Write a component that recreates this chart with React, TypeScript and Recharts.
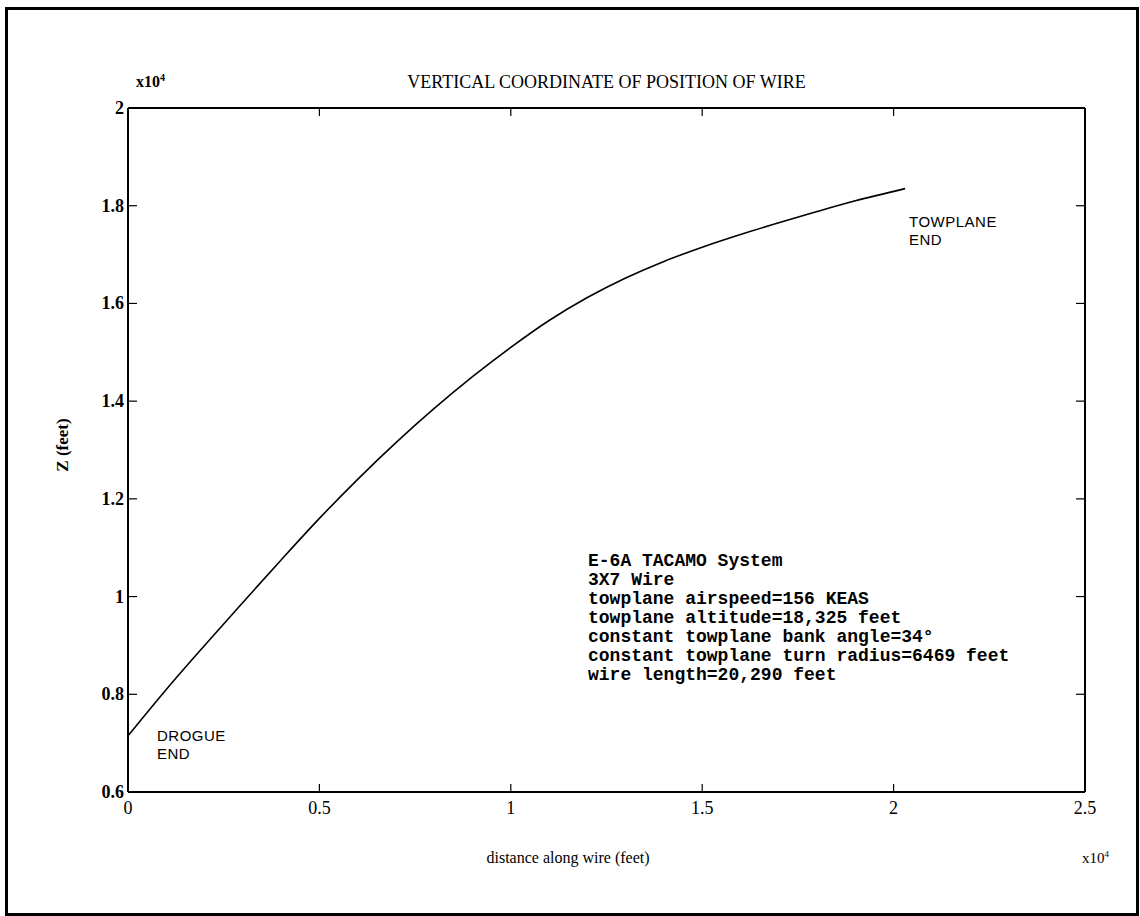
import { LineChart, Line, XAxis, YAxis } from "recharts";

// distance along wire (x10^4 feet) and vertical coordinate Z (x10^4 feet)
const distance = [0, 0.1, 0.2, 0.3, 0.4, 0.5, 0.6, 0.7, 0.8, 0.9, 1.0, 1.1, 1.2, 1.3, 1.4, 1.5, 1.6, 1.7, 1.8, 1.9, 2.03];
const zHeight = [0.715, 0.81, 0.9, 0.988, 1.075, 1.16, 1.24, 1.315, 1.385, 1.45, 1.51, 1.565, 1.612, 1.652, 1.686, 1.715, 1.741, 1.765, 1.788, 1.81, 1.835];

const xTicks = [0, 0.5, 1, 1.5, 2, 2.5];
const yTicks = [0.6, 0.8, 1, 1.2, 1.4, 1.6, 1.8, 2];

const notes = [
  "E-6A TACAMO System",
  "3X7 Wire",
  "towplane airspeed=156 KEAS",
  "towplane altitude=18,325 feet",
  "constant towplane bank angle=34°",
  "constant towplane turn radius=6469 feet",
  "wire length=20,290 feet",
];

const data = distance.map((d, i) => ({ distance: d, z: zHeight[i] }));

const serif = "'Liberation Serif', 'Times New Roman', serif";

const BottomTick = ({ x, y, payload }: any) => (
  <g>
    <line x1={x} x2={x} y1={y} y2={y - 8} stroke="#000" strokeWidth={1.2} />
    <text x={x} y={y + 22} textAnchor="middle" fontFamily={serif} fontSize={18} fill="#000">
      {payload.value}
    </text>
  </g>
);

const TopTick = ({ x, y }: any) => (
  <line x1={x} x2={x} y1={y} y2={y + 8} stroke="#000" strokeWidth={1.2} />
);

const LeftTick = ({ x, y, payload }: any) => (
  <g>
    <line x1={x} x2={x + 9} y1={y} y2={y} stroke="#000" strokeWidth={1.2} />
    <text x={x - 4} y={y + 6} textAnchor="end" fontFamily={serif} fontWeight="bold" fontSize={18} fill="#000">
      {payload.value}
    </text>
  </g>
);

const RightTick = ({ x, y }: any) => (
  <line x1={x} x2={x - 9} y1={y} y2={y} stroke="#000" strokeWidth={1.2} />
);

export default function App() {
  return (
    <div style={{ position: "absolute", left: 0, top: 0, width: 1140, height: 916, background: "#fff" }}>
      <div
        style={{
          position: "absolute",
          left: 5,
          top: 7,
          width: 1128,
          height: 903,
          border: "3px solid #000",
        }}
      />
      <LineChart
        width={1140}
        height={916}
        data={data}
        margin={{ top: 107, left: 127, right: 54, bottom: 123 }}
        style={{ position: "absolute", left: 0, top: 0 }}
      >
        <XAxis
          xAxisId="bottom"
          type="number"
          dataKey="distance"
          domain={[0, 2.5]}
          ticks={xTicks}
          height={1}
          tickSize={0}
          tickMargin={0}
          tickLine={false}
          axisLine={{ stroke: "#000", strokeWidth: 2 }}
          tick={BottomTick}
          interval={0}
        />
        <XAxis
          xAxisId="top"
          orientation="top"
          type="number"
          dataKey="distance"
          domain={[0, 2.5]}
          ticks={xTicks.slice(1, -1)}
          height={1}
          tickSize={0}
          tickMargin={0}
          tickLine={false}
          axisLine={{ stroke: "#000", strokeWidth: 2 }}
          tick={TopTick}
          interval={0}
        />
        <YAxis
          yAxisId="left"
          type="number"
          domain={[0.6, 2]}
          ticks={yTicks}
          width={1}
          tickSize={0}
          tickMargin={0}
          tickLine={false}
          axisLine={{ stroke: "#000", strokeWidth: 2 }}
          tick={LeftTick}
          interval={0}
        />
        <YAxis
          yAxisId="right"
          orientation="right"
          type="number"
          domain={[0.6, 2]}
          ticks={yTicks.slice(1, -1)}
          width={1}
          tickSize={0}
          tickMargin={0}
          tickLine={false}
          axisLine={{ stroke: "#000", strokeWidth: 2 }}
          tick={RightTick}
          interval={0}
        />
        <Line
          xAxisId="bottom"
          yAxisId="left"
          type="monotone"
          dataKey="z"
          stroke="#000"
          strokeWidth={1.6}
          dot={false}
          isAnimationActive={false}
        />
        <Line
          xAxisId="top"
          yAxisId="right"
          type="monotone"
          dataKey="z"
          stroke="none"
          dot={false}
          isAnimationActive={false}
        />
      </LineChart>

      {/* title and axis captions */}
      <div
        style={{
          position: "absolute",
          left: 128,
          width: 957,
          top: 72,
          textAlign: "center",
          fontFamily: serif,
          fontSize: 18,
        }}
      >
        VERTICAL COORDINATE OF POSITION OF WIRE
      </div>
      <div style={{ position: "absolute", left: 136, top: 72, fontFamily: serif, fontSize: 16, fontWeight: "bold" }}>
        x10<sup style={{ fontSize: 10 }}>4</sup>
      </div>
      <div
        style={{
          position: "absolute",
          left: 63,
          top: 445,
          transform: "translate(-50%, -50%) rotate(-90deg)",
          fontFamily: serif,
          fontSize: 17,
          fontWeight: "bold",
          whiteSpace: "nowrap",
        }}
      >
        Z (feet)
      </div>
      <div
        style={{
          position: "absolute",
          left: 468,
          width: 200,
          top: 849,
          textAlign: "center",
          fontFamily: serif,
          fontSize: 16,
          whiteSpace: "nowrap",
        }}
      >
        distance along wire (feet)
      </div>
      <div style={{ position: "absolute", left: 1082, top: 849, fontFamily: serif, fontSize: 15 }}>
        x10<sup style={{ fontSize: 9 }}>4</sup>
      </div>

      {/* end labels */}
      <div
        style={{
          position: "absolute",
          left: 157,
          top: 727,
          fontFamily: "'Liberation Sans', Arial, sans-serif",
          fontSize: 15,
          lineHeight: "18px",
          letterSpacing: 0.5,
        }}
      >
        DROGUE
        <br />
        END
      </div>
      <div
        style={{
          position: "absolute",
          left: 909,
          top: 213,
          fontFamily: "'Liberation Sans', Arial, sans-serif",
          fontSize: 15,
          lineHeight: "18px",
          letterSpacing: 0.5,
        }}
      >
        TOWPLANE
        <br />
        END
      </div>

      {/* system notes */}
      <div
        style={{
          position: "absolute",
          left: 588,
          top: 552,
          fontFamily: "'Liberation Mono', 'DejaVu Sans Mono', monospace",
          fontWeight: "bold",
          fontSize: 18,
          lineHeight: "19px",
          whiteSpace: "pre",
        }}
      >
        {notes.map((n) => (
          <div key={n}>{n}</div>
        ))}
      </div>
    </div>
  );
}
